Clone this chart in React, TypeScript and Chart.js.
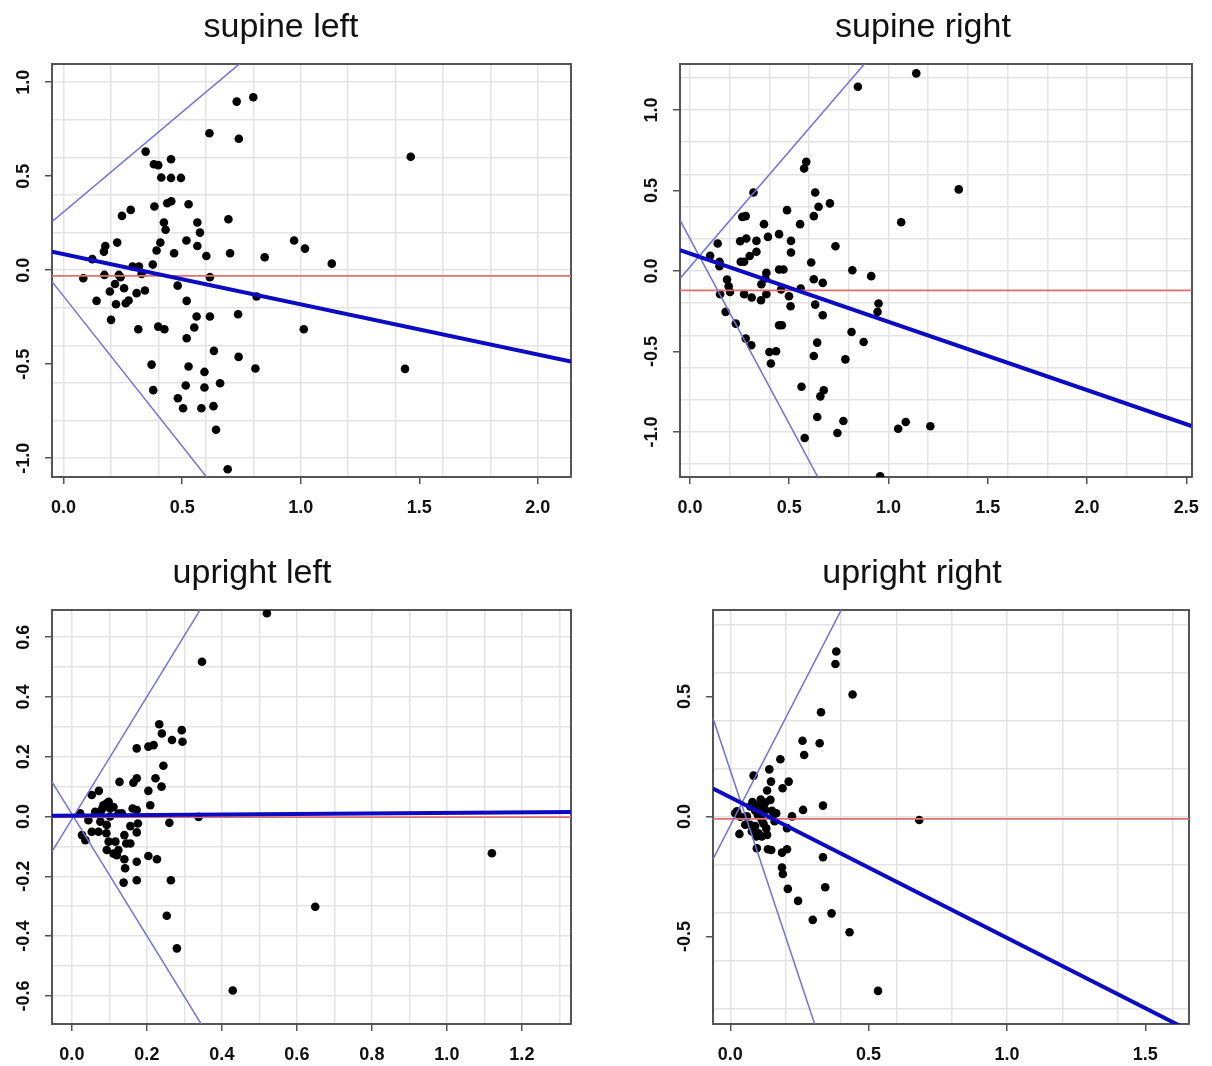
import React, { useEffect, useRef } from "react";
import { Chart, registerables } from "chart.js";

Chart.register(...registerables);

// ---------- titles ----------
const panelTitles = ["supine left", "supine right", "upright left", "upright right"];

// ---------- supine left ----------
const supineLeftX = [
  0.346, 0.730, 0.800, 0.615, 0.739, 0.381, 0.399, 0.453, 0.412, 0.453, 0.495, 0.283, 0.246, 0.383,
  0.437, 0.454, 0.527, 0.423, 0.430, 0.564, 0.575, 0.695, 0.226, 0.176, 0.170, 0.408, 0.392, 0.466,
  0.518, 0.564, 0.602, 0.702, 0.848, 0.972, 0.121, 0.291, 0.318, 0.376, 1.464, 1.018, 1.131, 1.013,
  1.440, 0.083, 0.172, 0.233, 0.240, 0.217, 0.195, 0.255, 0.308, 0.343, 0.139, 0.221, 0.262, 0.274,
  0.200, 0.315, 0.399, 0.425, 0.481, 0.519, 0.561, 0.617, 0.736, 0.551, 0.519, 0.634, 0.738, 0.527,
  0.594, 0.809, 0.371, 0.378, 0.515, 0.594, 0.660, 0.482, 0.504, 0.581, 0.632, 0.643, 0.692, 0.617,
  0.329, 0.814,
];
const supineLeftY = [
  0.631, 0.897, 0.920, 0.729, 0.699, 0.564, 0.559, 0.590, 0.493, 0.491, 0.491, 0.321, 0.289, 0.339,
  0.356, 0.367, 0.351, 0.254, 0.215, 0.254, 0.200, 0.271, 0.147, 0.129, 0.099, 0.147, 0.105, 0.090,
  0.158, 0.129, 0.076, 0.090, 0.069, 0.158, 0.059, 0.020, 0.020, 0.030, 0.604, 0.115, 0.035, -0.314,
  -0.525, -0.043, -0.025, -0.025, -0.037, -0.073, -0.113, -0.096, -0.122, -0.108, -0.163, -0.181, -0.176, -0.161,
  -0.264, -0.314, -0.300, -0.314, -0.082, -0.163, -0.246, -0.246, -0.234, -0.305, -0.362, -0.429, -0.461, -0.512,
  -0.541, -0.523, -0.502, -0.638, -0.613, -0.624, -0.601, -0.681, -0.734, -0.734, -0.723, -0.849, -1.059, -0.037,
  -0.020, -0.140,
];
const supineLeftFit = [0.086, -0.267]; // intercept, slope
const supineLeftUpper = [0.31, 1.062];
const supineLeftLower = [-0.139, -1.594];
const supineLeftMean = -0.03;
const supineLeftXRange = [-0.049, 2.14];
const supineLeftYRange = [-1.1, 1.097];
const supineLeftXTicks = [0, 0.5, 1.0, 1.5, 2.0];
const supineLeftYTicks = [-1.0, -0.5, 0, 0.5, 1.0];

// ---------- supine right ----------
const supineRightX = [
  1.140, 0.846, 0.586, 0.575, 0.320, 0.631, 0.648, 0.705, 0.624, 0.489, 0.264, 0.281, 0.373, 0.555,
  1.064, 0.140, 0.253, 0.284, 0.335, 0.393, 0.449, 0.509, 0.509, 0.733, 0.102, 0.301, 0.335, 0.256,
  0.149, 0.149, 0.273, 0.611, 0.449, 0.471, 0.818, 0.913, 0.385, 0.187, 0.624, 0.669, 1.354, 1.211,
  1.049, 1.087, 0.195, 0.202, 0.152, 0.273, 0.311, 0.358, 0.385, 0.360, 0.380, 0.459, 0.499, 0.507,
  0.558, 0.631, 0.669, 0.950, 0.945, 0.180, 0.231, 0.281, 0.309, 0.449, 0.463, 0.400, 0.434, 0.408,
  0.814, 0.875, 0.641, 0.624, 0.783, 0.562, 0.674, 0.657, 0.641, 0.773, 0.743, 0.578, 0.958,
];
const supineRightY = [
  1.228, 1.145, 0.678, 0.637, 0.488, 0.488, 0.399, 0.420, 0.341, 0.378, 0.336, 0.341, 0.291, 0.291,
  0.303, 0.171, 0.185, 0.202, 0.187, 0.212, 0.229, 0.187, 0.115, 0.154, 0.094, 0.093, 0.119, 0.057,
  0.057, 0.030, 0.057, 0.053, 0.009, 0.009, 0.005, -0.032, -0.012, -0.053, -0.051, -0.074, 0.507, -0.965,
  -0.980, -0.938, -0.095, -0.130, -0.144, -0.144, -0.165, -0.182, -0.144, -0.082, -0.047, -0.115, -0.157, -0.219,
  -0.109, -0.209, -0.275, -0.202, -0.254, -0.254, -0.327, -0.420, -0.461, -0.337, -0.337, -0.503, -0.499, -0.575,
  -0.379, -0.441, -0.445, -0.528, -0.549, -0.719, -0.741, -0.779, -0.907, -0.932, -1.007, -1.038, -1.276,
];
const supineRightFit = [0.108, -0.424];
const supineRightUpper = [0.025, 1.435];
const supineRightLower = [0.201, -2.3];
const supineRightMean = -0.12;
const supineRightXRange = [-0.05, 2.527];
const supineRightYRange = [-1.28, 1.286];
const supineRightXTicks = [0, 0.5, 1.0, 1.5, 2.0, 2.5];
const supineRightYTicks = [-1.0, -0.5, 0, 0.5, 1.0];

// ---------- upright left ----------
const uprightLeftX = [
  0.520, 0.347, 0.233, 0.240, 0.267, 0.293, 0.295, 0.173, 0.204, 0.218, 0.244, 0.223, 0.239, 0.164,
  0.173, 0.127, 0.072, 0.053, 0.204, 0.209, 0.162, 0.173, 0.093, 0.080, 0.102, 0.062, 0.133, 0.022,
  0.338, 0.260, 0.044, 0.027, 0.036, 0.053, 0.071, 0.076, 0.093, 0.092, 0.098, 0.093, 0.116, 0.111,
  0.124, 0.120, 0.140, 0.145, 0.156, 0.140, 0.142, 0.138, 0.173, 0.173, 0.204, 0.227, 0.156, 0.176,
  0.173, 0.264, 0.253, 0.280, 0.429, 0.649, 1.120, 0.084, 0.098, 0.111, 0.124, 0.076, 0.102,
];
const uprightLeftY = [
  0.680, 0.518, 0.309, 0.278, 0.256, 0.289, 0.250, 0.228, 0.234, 0.239, 0.170, 0.128, 0.100, 0.113,
  0.128, 0.116, 0.086, 0.072, 0.086, 0.038, 0.027, 0.022, 0.044, 0.024, 0.027, 0.016, 0.011, 0.011,
  -0.001, -0.021, -0.012, -0.062, -0.079, -0.051, -0.051, -0.017, -0.028, -0.056, -0.084, -0.112, -0.084, -0.124,
  -0.112, -0.129, -0.062, -0.090, -0.090, -0.143, -0.173, -0.221, -0.151, -0.213, -0.132, -0.143, -0.032, -0.023,
  -0.053, -0.213, -0.332, -0.441, -0.582, -0.302, -0.123, 0.038, 0.049, 0.032, 0.010, 0.005, 0.000,
];
const uprightLeftFit = [0.0035, 0.0087];
const uprightLeftUpper = [-0.009, 2.048];
const uprightLeftLower = [0.008, -2.035];
const uprightLeftMean = -0.002;
const uprightLeftXRange = [-0.053, 1.331];
const uprightLeftYRange = [-0.694, 0.691];
const uprightLeftXTicks = [0, 0.2, 0.4, 0.6, 0.8, 1.0, 1.2];
const uprightLeftYTicks = [-0.6, -0.4, -0.2, 0, 0.2, 0.4, 0.6];

// ---------- upright right ----------
const uprightRightX = [
  0.383, 0.380, 0.442, 0.328, 0.261, 0.323, 0.267, 0.181, 0.084, 0.141, 0.147, 0.211, 0.133, 0.189,
  0.335, 0.263, 0.223, 0.145, 0.127, 0.102, 0.072, 0.024, 0.090, 0.114, 0.151, 0.166, 0.683, 0.018,
  0.036, 0.054, 0.033, 0.072, 0.078, 0.090, 0.102, 0.094, 0.114, 0.133, 0.096, 0.136, 0.148, 0.187,
  0.205, 0.205, 0.335, 0.187, 0.190, 0.208, 0.245, 0.298, 0.343, 0.366, 0.431, 0.534, 0.127, 0.157,
  0.114, 0.060, 0.100, 0.120, 0.080, 0.110, 0.130, 0.160,
];
const uprightRightY = [
  0.687, 0.635, 0.508, 0.434, 0.315, 0.305, 0.256, 0.238, 0.170, 0.196, 0.145, 0.145, 0.108, 0.117,
  0.045, 0.027, 0.000, 0.069, 0.058, 0.048, 0.041, 0.021, 0.024, 0.030, 0.023, 0.013, -0.015, 0.013,
  -0.001, -0.035, -0.073, -0.035, -0.063, -0.040, -0.070, -0.084, -0.084, -0.077, -0.133, -0.137, -0.140, -0.151,
  -0.137, -0.049, -0.170, -0.213, -0.240, -0.302, -0.352, -0.431, -0.295, -0.404, -0.483, -0.727, 0.027, 0.013,
  -0.015, 0.000, 0.005, -0.030, 0.060, 0.070, -0.050, -0.020,
];
const uprightRightFit = [0.08, -0.586];
const uprightRightUpper = [-0.038, 2.24];
const uprightRightLower = [0.192, -3.467];
const uprightRightMean = -0.01;
const uprightRightXRange = [-0.0625, 1.658];
const uprightRightYRange = [-0.865, 0.86];
const uprightRightXTicks = [0, 0.5, 1.0, 1.5];
const uprightRightYTicks = [-0.5, 0, 0.5];

// ---------- layout (not data) ----------
const W = 606;
const H = 533;

type Panel = {
  title: string;
  xs: number[];
  ys: number[];
  fit: number[];
  upper: number[];
  lower: number[];
  mean: number;
  xRange: number[];
  yRange: number[];
  xTicks: number[];
  yTicks: number[];
  gridX: number;
  gridY: number;
  left: number;
  top: number;
  area: { left: number; right: number; top: number; bottom: number };
  titleX: number;
  titleY: number;
};

const panels: Panel[] = [
  {
    title: panelTitles[0], xs: supineLeftX, ys: supineLeftY, fit: supineLeftFit, upper: supineLeftUpper,
    lower: supineLeftLower, mean: supineLeftMean, xRange: supineLeftXRange, yRange: supineLeftYRange,
    xTicks: supineLeftXTicks, yTicks: supineLeftYTicks, gridX: 0.2, gridY: 0.2,
    left: 0, top: 0, area: { left: 52, right: 571, top: 64, bottom: 477 }, titleX: 281, titleY: 37,
  },
  {
    title: panelTitles[1], xs: supineRightX, ys: supineRightY, fit: supineRightFit, upper: supineRightUpper,
    lower: supineRightLower, mean: supineRightMean, xRange: supineRightXRange, yRange: supineRightYRange,
    xTicks: supineRightXTicks, yTicks: supineRightYTicks, gridX: 0.2, gridY: 0.2,
    left: 606, top: 0, area: { left: 74, right: 594, top: 64, bottom: 477 }, titleX: 317, titleY: 37,
  },
  {
    title: panelTitles[2], xs: uprightLeftX, ys: uprightLeftY, fit: uprightLeftFit, upper: uprightLeftUpper,
    lower: uprightLeftLower, mean: uprightLeftMean, xRange: uprightLeftXRange, yRange: uprightLeftYRange,
    xTicks: uprightLeftXTicks, yTicks: uprightLeftYTicks, gridX: 0.1, gridY: 0.1,
    left: 0, top: 533, area: { left: 52, right: 571, top: 77, bottom: 491 }, titleX: 252, titleY: 50,
  },
  {
    title: panelTitles[3], xs: uprightRightX, ys: uprightRightY, fit: uprightRightFit, upper: uprightRightUpper,
    lower: uprightRightLower, mean: uprightRightMean, xRange: uprightRightXRange, yRange: uprightRightYRange,
    xTicks: uprightRightXTicks, yTicks: uprightRightYTicks, gridX: 0.2, gridY: 0.2,
    left: 606, top: 533, area: { left: 107, right: 583, top: 77, bottom: 491 }, titleX: 306, titleY: 50,
  },
];

const FRAME = "#555555";
const GRID = "#e4e4e4";
const TICK_FONT = { family: '"Liberation Sans", Arial, sans-serif', size: 18, weight: "bold" as const };

const panelTitlePlugin = {
  id: "panelTitle",
  afterDraw(chart: any, _args: any, opts: any) {
    const ctx = chart.ctx;
    ctx.save();
    ctx.font = '34px "Liberation Sans", Arial, sans-serif';
    ctx.fillStyle = "#111111";
    ctx.textAlign = "center";
    ctx.textBaseline = "alphabetic";
    ctx.fillText(opts.text, opts.x, opts.y);
    ctx.restore();
  },
};

function makeConfig(p: Panel): any {
  const [xmin, xmax] = p.xRange;
  const [ymin, ymax] = p.yRange;
  const lineData = (ab: number[]) => [
    { x: xmin, y: ab[0] + ab[1] * xmin },
    { x: xmax, y: ab[0] + ab[1] * xmax },
  ];
  const lineDs = (label: string, data: any[], color: string, width: number, order: number) => ({
    type: "line",
    label,
    data,
    borderColor: color,
    borderWidth: width,
    pointRadius: 0,
    showLine: true,
    fill: false,
    tension: 0,
    clip: 0,
    order,
  });
  const fmt = (v: any) => Number(v).toFixed(1);
  return {
    type: "scatter",
    data: {
      datasets: [
        lineDs("regression", lineData(p.fit), "#0b0bc4", 4, 1),
        lineDs("upper", lineData(p.upper), "#7272d8", 1.5, 2),
        lineDs("lower", lineData(p.lower), "#7272d8", 1.5, 2),
        lineDs("mean", [{ x: xmin, y: p.mean }, { x: xmax, y: p.mean }], "#e07070", 1.8, 3),
        {
          type: "scatter",
          label: "points",
          data: p.xs.map((x, i) => ({ x, y: p.ys[i] })),
          pointRadius: 4.3,
          pointBackgroundColor: "#000000",
          pointBorderWidth: 0,
          order: 10,
        },
      ],
    },
    options: {
      animation: false,
      responsive: false,
      maintainAspectRatio: false,
      events: [],
      layout: {
        autoPadding: false,
        padding: { top: p.area.top, right: W - p.area.right, left: 0, bottom: 0 },
      },
      plugins: {
        legend: { display: false },
        tooltip: { enabled: false },
        title: { display: false },
        panelTitle: { text: p.title, x: p.titleX, y: p.titleY },
      },
      scales: {
        x: {
          type: "linear",
          axis: "x",
          position: "bottom",
          min: xmin,
          max: xmax,
          afterBuildTicks: (s: any) => {
            s.ticks = p.xTicks.map((v) => ({ value: v }));
          },
          afterFit: (s: any) => {
            s.height = H - p.area.bottom;
          },
          ticks: {
            callback: fmt,
            font: TICK_FONT,
            color: "#111111",
            padding: 13,
            autoSkip: false,
            minRotation: 0,
            maxRotation: 0,
          },
          grid: { drawOnChartArea: false, drawTicks: true, tickLength: 7, tickColor: FRAME, lineWidth: 1.5 },
          border: { display: true, color: FRAME, width: 2 },
        },
        y: {
          type: "linear",
          axis: "y",
          position: "left",
          min: ymin,
          max: ymax,
          afterBuildTicks: (s: any) => {
            s.ticks = p.yTicks.map((v) => ({ value: v }));
          },
          afterFit: (s: any) => {
            s.width = p.area.left;
          },
          ticks: {
            callback: fmt,
            font: TICK_FONT,
            color: "#111111",
            padding: 5,
            autoSkip: false,
            minRotation: 90,
            maxRotation: 90,
            crossAlign: "center",
          },
          grid: { drawOnChartArea: false, drawTicks: true, tickLength: 7, tickColor: FRAME, lineWidth: 1.5 },
          border: { display: true, color: FRAME, width: 2 },
        },
        xg: {
          type: "linear",
          axis: "x",
          position: "top",
          min: xmin,
          max: xmax,
          afterFit: (s: any) => {
            s.height = 0;
          },
          ticks: { display: false, stepSize: p.gridX, includeBounds: false, autoSkip: false },
          grid: { drawTicks: false, color: GRID, lineWidth: 1.5 },
          border: { display: true, color: FRAME, width: 2 },
        },
        yg: {
          type: "linear",
          axis: "y",
          position: "right",
          min: ymin,
          max: ymax,
          afterFit: (s: any) => {
            s.width = 0;
          },
          ticks: { display: false, stepSize: p.gridY, includeBounds: false, autoSkip: false },
          grid: { drawTicks: false, color: GRID, lineWidth: 1.5 },
          border: { display: true, color: FRAME, width: 2 },
        },
      },
    },
    plugins: [panelTitlePlugin],
  };
}

function PanelChart({ p }: { p: Panel }) {
  const ref = useRef<HTMLCanvasElement>(null);
  useEffect(() => {
    const chart = new Chart(ref.current as HTMLCanvasElement, makeConfig(p));
    return () => chart.destroy();
  }, [p]);
  return (
    <canvas
      ref={ref}
      width={W}
      height={H}
      style={{ position: "absolute", left: p.left, top: p.top, width: W, height: H }}
    />
  );
}

export default function App() {
  return (
    <div style={{ position: "absolute", left: 0, top: 0, width: 1212, height: 1066, background: "#ffffff" }}>
      {panels.map((p, i) => (
        <PanelChart key={i} p={p} />
      ))}
    </div>
  );
}
